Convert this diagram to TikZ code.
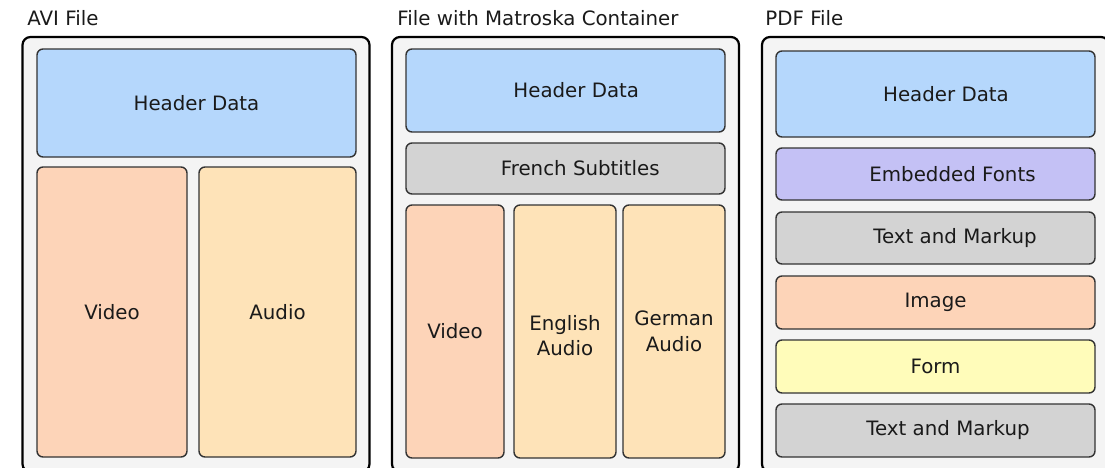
\documentclass[tikz,border=0pt]{standalone}
\usepackage{fontspec}
\setmainfont{DejaVu Sans}
\usetikzlibrary{positioning}
\definecolor{FrameGray}{HTML}{F4F4F4}
\definecolor{EdgeGray}{HTML}{333333}
\definecolor{TextBlack}{HTML}{1A1A1A}
\definecolor{HeadBlue}{HTML}{B5D7FC}
\definecolor{VideoSalmon}{HTML}{FDD4B8}
\definecolor{AudioTan}{HTML}{FEE3B8}
\definecolor{PartGray}{HTML}{D3D3D3}
\definecolor{FontPurple}{HTML}{C4C1F5}
\definecolor{FormYellow}{HTML}{FFFCBA}

\begin{document}
\begin{tikzpicture}[x=0.5pt,y=-0.5pt,every node/.style={font=\fontsize{9.9}{12.8}\selectfont, text=TextBlack, align=center, inner sep=0pt}, filebox/.style={draw=black, line width=1.1pt, fill=FrameGray, rounded corners=4pt, minimum width=173.5pt, minimum height=217.5pt}, part/.style={draw=EdgeGray, line width=0.7pt, rounded corners=3pt}, title/.style={anchor=base west}]
        \useasboundingbox (0,0) rectangle (1105,467);
        \clip (0,0) rectangle (1105,467);

        % file frames
        \node[filebox] (avi) at (196,254.5) {};
        \node[filebox] (mkv) at (565.5,254.5) {};
        \node[filebox] (pdf) at (935.5,254.5) {};

        \node[title] (avititle) at (27,25) {AVI File};
        \node[title] (mkvtitle) at (397,25) {File with Matroska Container};
        \node[title] (pdftitle) at (765,25) {PDF File};

        % AVI
        \node[part, fill=HeadBlue, minimum width=159.5pt, minimum height=54pt] (avihead) at (196.5,103) {Header Data};
        \node[part, fill=VideoSalmon, minimum width=75pt, minimum height=145pt] (avivideo) at (112,312) {Video};
        \node[part, fill=AudioTan, minimum width=78.5pt, minimum height=145pt] (aviaudio) at (277.5,312) {Audio};

        % Matroska
        \node[part, fill=HeadBlue, minimum width=159.5pt, minimum height=41.5pt, label={[xshift=5.4pt]center:Header Data}] (mkvhead) at (565.5,90.5) {};
        \node[part, fill=PartGray, minimum width=159.5pt, minimum height=25.5pt, label={[xshift=7.4pt]center:French Subtitles}] (mkvsubs) at (565.5,168.5) {};
        \node[part, fill=VideoSalmon, minimum width=49pt, minimum height=126.5pt] (mkvvideo) at (455,331.5) {Video};
        \node[part, fill=AudioTan, minimum width=51pt, minimum height=126.5pt, label={[yshift=-2pt]center:English\\Audio}] (mkveng) at (565,331.5) {};
        \node[part, fill=AudioTan, minimum width=51pt, minimum height=126.5pt] (mkvger) at (674,331.5) {German\\Audio};

        % PDF
        \node[part, fill=HeadBlue, minimum width=159.5pt, minimum height=43pt, label={[xshift=5.25pt]center:Header Data}] (pdfhead) at (935.5,94) {};
        \node[part, fill=FontPurple, minimum width=159.5pt, minimum height=26pt, label={[xshift=8.5pt]center:Embedded Fonts}] (pdffonts) at (935.5,174) {};
        \node[part, fill=PartGray, minimum width=159.5pt, minimum height=26pt, label={[xshift=9.75pt]center:Text and Markup}] (pdftext) at (935.5,238) {};
        \node[part, fill=VideoSalmon, minimum width=159.5pt, minimum height=26.5pt] (pdfimage) at (935.5,302.5) {Image};
        \node[part, fill=FormYellow, minimum width=159.5pt, minimum height=26.5pt] (pdfform) at (935.5,366.5) {Form};
        \node[part, fill=PartGray, minimum width=159.5pt, minimum height=26.5pt, label={[xshift=6.25pt]center:Text and Markup}] (pdfmarkup) at (935.5,430.5) {};
    \end{tikzpicture}
\end{document}
